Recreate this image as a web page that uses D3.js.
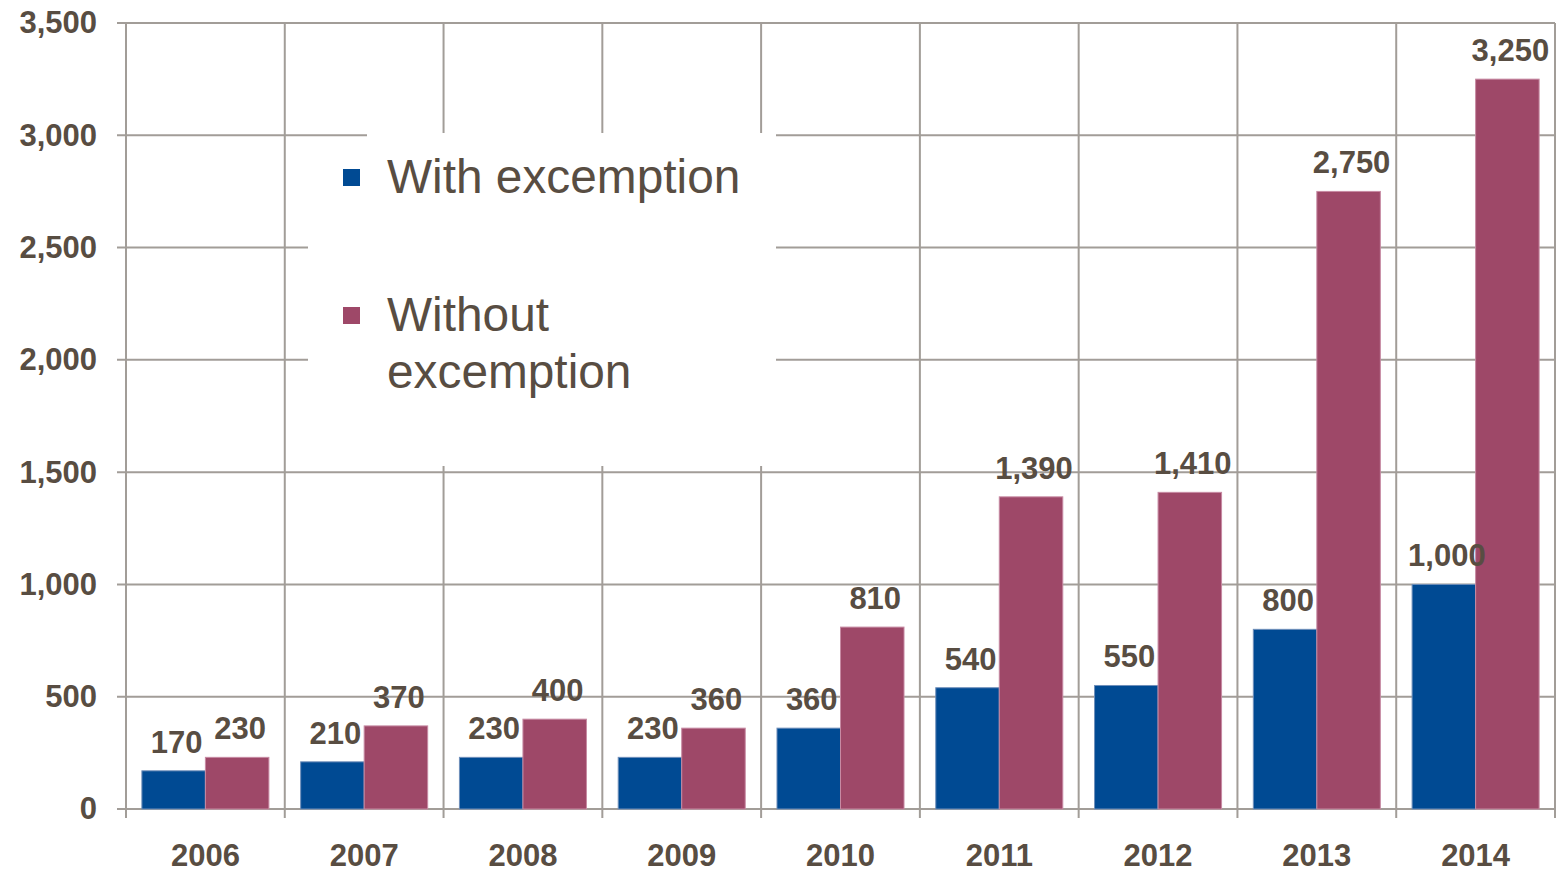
<!DOCTYPE html>
<html>
<head>
<meta charset="utf-8">
<script src="https://cdn.jsdelivr.net/npm/d3@7"></script>
<style>
  html, body { margin: 0; padding: 0; background: #ffffff; }
  svg { display: block; }
</style>
</head>
<body>
<svg id="chart" width="1562" height="871"></svg>
<script>
// Yearly counts, two series
const years = ["2006", "2007", "2008", "2009", "2010", "2011", "2012", "2013", "2014"];
const withExcemption = [170, 210, 230, 230, 360, 540, 550, 800, 1000];
const withoutExcemption = [230, 370, 400, 360, 810, 1390, 1410, 2750, 3250];
const seriesKeys = ["with", "without"];
const legendLines = [["With excemption"], ["Without", "excemption"]];
const yTicks = [0, 500, 1000, 1500, 2000, 2500, 3000, 3500];

const colors = { with: "#004a93", without: "#9e4868" };
const strokeColors = { with: "#6f8fba", without: "#c78aa3" };
const textColor = "#584d42";
const gridColor = "#a29d98";
const fontFamily = "'Liberation Sans', Arial, Helvetica, sans-serif";

const plotLeft = 126, plotRight = 1555, plotTop = 23, plotBottom = 809;

const svg = d3.select("#chart");

const x = d3.scaleBand().domain(years).range([plotLeft, plotRight]).paddingInner(0).paddingOuter(0);
const bw = x.bandwidth();
const xs = d3.scaleBand().domain(seriesKeys).range([bw * 0.1, bw * 0.9]).padding(0);
const y = d3.scaleLinear().domain([0, 3500]).range([plotBottom, plotTop]);

const rows = years.map((yr, i) => ({ year: yr, with: withExcemption[i], without: withoutExcemption[i] }));

// Grid: horizontal lines at each tick, vertical lines at category boundaries
const grid = svg.append("g").attr("stroke", gridColor).attr("stroke-width", 2);
grid.selectAll("line.h").data(yTicks).join("line")
  .attr("class", "h")
  .attr("x1", plotLeft - 9).attr("x2", plotRight)
  .attr("y1", d => y(d)).attr("y2", d => y(d));
const boundaries = years.map(d => x(d)).concat([x(years[years.length - 1]) + bw]);
grid.selectAll("line.v").data(boundaries).join("line")
  .attr("class", "v")
  .attr("x1", d => d).attr("x2", d => d)
  .attr("y1", plotTop).attr("y2", plotBottom + 9);

// Legend panel (white background over the grid)
const legend = svg.append("g");
legend.append("rect").attr("x", 367).attr("y", 133).attr("width", 409).attr("height", 333).attr("fill", "#ffffff");
legend.append("rect").attr("x", 308).attr("y", 215).attr("width", 468).attr("height", 251).attr("fill", "#ffffff");

const legendItemY = [186, 324];
seriesKeys.forEach((k, i) => {
  legend.append("rect")
    .attr("x", 343).attr("y", legendItemY[i] - 17)
    .attr("width", 17).attr("height", 17)
    .attr("fill", colors[k]);
  const t = legend.append("text")
    .attr("x", 387).attr("y", legendItemY[i] + 7)
    .attr("font-family", fontFamily).attr("font-size", 47.8)
    .attr("fill", textColor);
  legendLines[i].forEach((line, j) => {
    t.append("tspan").attr("x", 387).attr("dy", j === 0 ? 0 : 57).text(line);
  });
});

// Y axis
const yAxis = d3.axisLeft(y).tickValues(yTicks).tickSize(0).tickPadding(29).tickFormat(d3.format(","));
const gy = svg.append("g").attr("transform", `translate(${plotLeft},0)`).call(yAxis);
gy.select(".domain").remove();
gy.selectAll("text")
  .attr("font-family", fontFamily).attr("font-size", 31).attr("font-weight", "bold")
  .attr("fill", textColor);

// X axis
const xAxis = d3.axisBottom(x).tickSize(0).tickPadding(35);
const gx = svg.append("g").attr("transform", `translate(0,${plotBottom})`).call(xAxis);
gx.select(".domain").remove();
gx.selectAll("text")
  .attr("font-family", fontFamily).attr("font-size", 31).attr("font-weight", "bold")
  .attr("fill", textColor);

// Bars
const groups = svg.append("g").selectAll("g").data(rows).join("g")
  .attr("transform", d => `translate(${x(d.year)},0)`);

groups.selectAll("rect").data(d => seriesKeys.map(k => ({ key: k, value: d[k] }))).join("rect")
  .attr("x", d => xs(d.key))
  .attr("y", d => y(d.value))
  .attr("width", xs.bandwidth())
  .attr("height", d => y(0) - y(d.value))
  .attr("fill", d => colors[d.key])
  .attr("stroke", d => strokeColors[d.key])
  .attr("stroke-width", 1);

// Value labels
groups.selectAll("text").data(d => seriesKeys.map(k => ({ key: k, value: d[k] }))).join("text")
  .attr("x", d => xs(d.key) + xs.bandwidth() / 2 + 3)
  .attr("y", d => y(d.value) - 18)
  .attr("text-anchor", "middle")
  .attr("font-family", fontFamily).attr("font-size", 31).attr("font-weight", "bold")
  .attr("fill", textColor)
  .text(d => d3.format(",")(d.value));
</script>
</body>
</html>
